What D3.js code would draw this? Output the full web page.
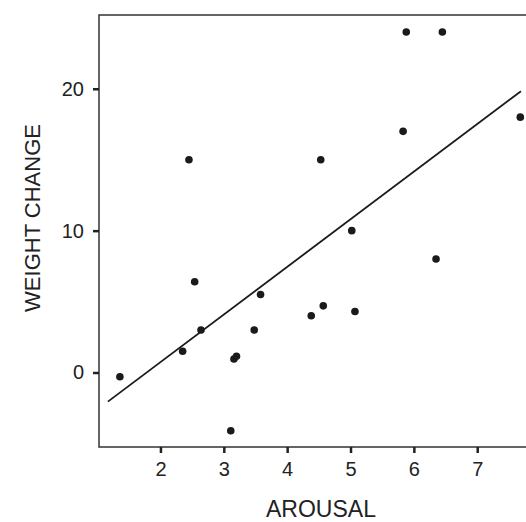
<!DOCTYPE html>
<html>
<head>
<meta charset="utf-8">
<script src="https://cdn.jsdelivr.net/npm/d3@7"></script>
<style>
  body { margin: 0; background: #fff; }
  svg { display: block; }
</style>
</head>
<body>
<svg id="chart"></svg>
<script>
'use strict';
// values
const AROUSAL = [1.36, 2.35, 2.45, 2.54, 2.64, 3.11, 3.16, 3.20, 3.48, 3.58,
                 4.38, 4.53, 4.57, 5.02, 5.07, 5.83, 5.88, 6.35, 6.45, 7.68];
const WEIGHT_CHANGE = [-0.3, 1.5, 15.0, 6.4, 3.0, -4.1, 0.95, 1.15, 3.0, 5.5,
                       4.0, 15.0, 4.7, 10.0, 4.3, 17.0, 24.0, 8.0, 24.0, 18.0];
const X_TICKS = [2, 3, 4, 5, 6, 7];
const Y_TICKS = [0, 10, 20];
const FIT_RANGE = [1.17, 7.69];

const WIDTH = 526, HEIGHT = 522;
const LEFT = 99, RIGHT = 526, TOP = 15, BOTTOM = 447;

let chart = d3.select('#chart')
  .attr('width', WIDTH)
  .attr('height', HEIGHT);

let data = AROUSAL.map(function(a, i) { return { x: a, y: WEIGHT_CHANGE[i] }; });

let xScale = d3.scaleLinear().domain([1.03, 7.77]).range([LEFT, RIGHT]);
let yScale = d3.scaleLinear().domain([-5.25, 25.2]).range([BOTTOM, TOP]);

// least squares line
let mx = d3.mean(data, d => d.x), my = d3.mean(data, d => d.y);
let sxy = d3.sum(data, d => (d.x - mx) * (d.y - my));
let sxx = d3.sum(data, d => (d.x - mx) * (d.x - mx));
let slope = sxy / sxx, intercept = my - slope * mx;

// frame: left, bottom and top
chart.append('path')
  .attr('d', 'M' + RIGHT + ',' + TOP + 'H' + LEFT + 'V' + BOTTOM + 'H' + RIGHT)
  .attr('fill', 'none')
  .attr('stroke', '#333')
  .attr('stroke-width', 1.5);

let xAxis = chart.append('g')
  .attr('transform', 'translate(0,' + BOTTOM + ')')
  .call(d3.axisBottom(xScale).tickValues(X_TICKS).tickFormat(d3.format('d'))
    .tickSize(6).tickPadding(9));
let yAxis = chart.append('g')
  .attr('transform', 'translate(' + LEFT + ',0)')
  .call(d3.axisLeft(yScale).tickValues(Y_TICKS).tickFormat(d3.format('d'))
    .tickSize(6).tickPadding(9));

[xAxis, yAxis].forEach(function(ax) {
  ax.select('.domain').remove();
  ax.selectAll('.tick line').attr('stroke', '#222').attr('stroke-width', 2.5);
  ax.selectAll('.tick text')
    .attr('fill', '#222')
    .attr('font-family', '"Liberation Sans", Arial, sans-serif')
    .attr('font-size', 20);
});

chart.append('line')
  .attr('x1', xScale(FIT_RANGE[0]))
  .attr('y1', yScale(intercept + slope * FIT_RANGE[0]))
  .attr('x2', xScale(FIT_RANGE[1]))
  .attr('y2', yScale(intercept + slope * FIT_RANGE[1]))
  .attr('stroke', '#1a1a1a')
  .attr('stroke-width', 1.8);

chart.selectAll('circle')
  .data(data)
  .enter()
  .append('circle')
  .attr('cx', d => xScale(d.x))
  .attr('cy', d => yScale(d.y))
  .attr('r', 3.8)
  .attr('fill', '#1a1a1a');

chart.append('text')
  .attr('x', 321)
  .attr('y', 517)
  .attr('text-anchor', 'middle')
  .attr('font-family', '"Liberation Sans", Arial, sans-serif')
  .attr('font-size', 23)
  .attr('fill', '#222')
  .text('AROUSAL');

chart.append('text')
  .attr('transform', 'translate(40,' + 218 + ') rotate(-90)')
  .attr('text-anchor', 'middle')
  .attr('font-family', '"Liberation Sans", Arial, sans-serif')
  .attr('font-size', 22)
  .attr('fill', '#222')
  .text('WEIGHT CHANGE');
</script>
</body>
</html>
